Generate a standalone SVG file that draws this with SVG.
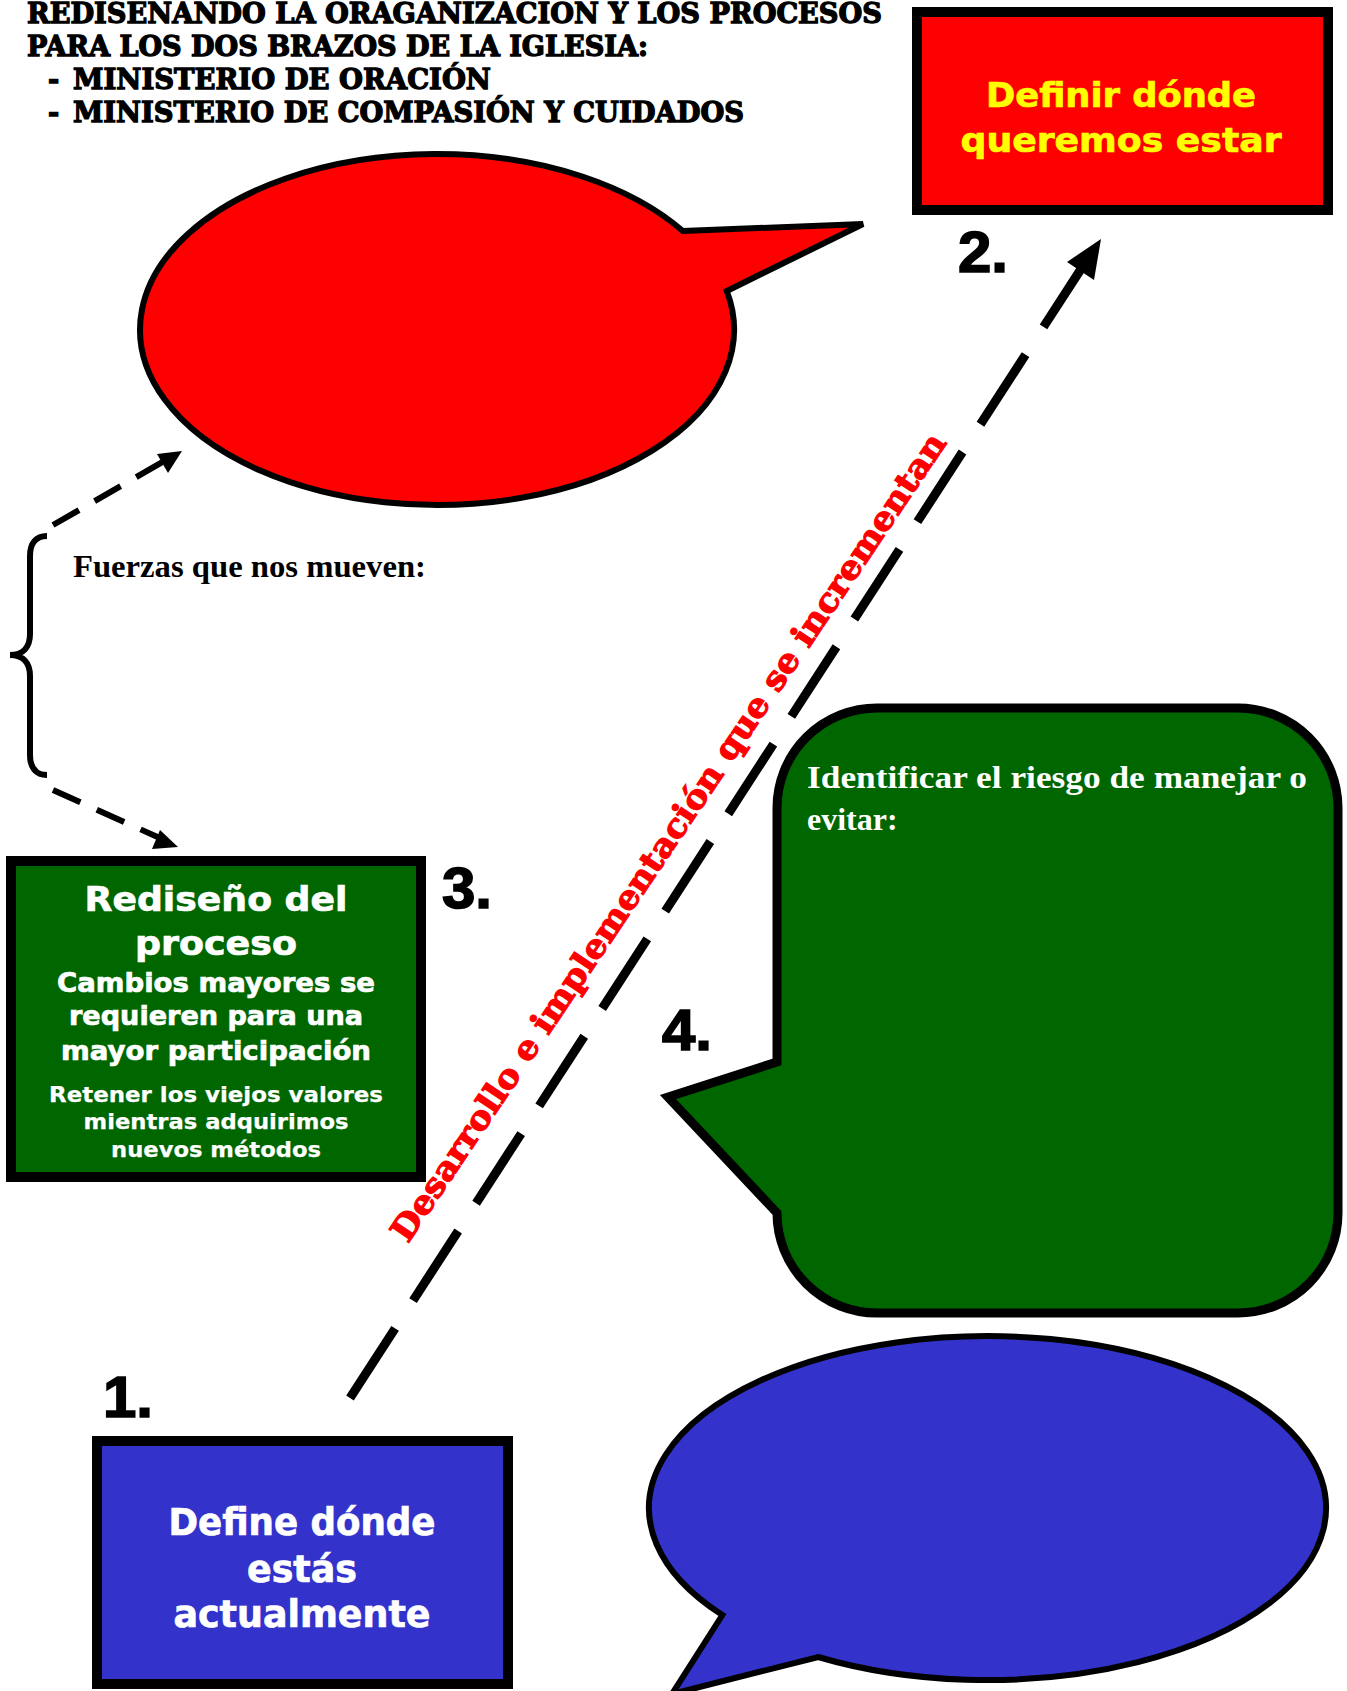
<svg xmlns="http://www.w3.org/2000/svg" width="1347" height="1691" viewBox="0 0 1347 1691">
<style>
.hdr{font-family:"DejaVu Serif","Liberation Serif",serif;font-weight:bold;font-size:27px;fill:#000;stroke:#000;stroke-width:1.3px}
.box{font-family:"DejaVu Sans","Liberation Sans",sans-serif;font-weight:bold;text-anchor:middle;stroke-width:0.7px}
.sm{stroke-width:0.25px}
.num{font-family:"Liberation Sans","DejaVu Sans",sans-serif;font-weight:bold;font-size:57px;fill:#000;stroke:#000;stroke-width:1.6px}
.tms{font-family:"Liberation Serif","DejaVu Serif",serif;font-weight:bold}
.edge{stroke:#000;stroke-linejoin:miter}
</style>
<rect width="1347" height="1691" fill="#fff"/>

<g id="header">
<text class="hdr" x="27" y="23" textLength="855" lengthAdjust="spacingAndGlyphs">REDISENANDO LA ORAGANIZACION Y LOS PROCESOS</text>
<text class="hdr" x="27" y="56" textLength="621" lengthAdjust="spacingAndGlyphs">PARA LOS DOS BRAZOS DE LA IGLESIA:</text>
<text class="hdr" x="48" y="89">-</text>
<text class="hdr" x="73" y="89" textLength="418" lengthAdjust="spacingAndGlyphs">MINISTERIO DE ORACIÓN</text>
<text class="hdr" x="48" y="122">-</text>
<text class="hdr" x="73" y="122" textLength="671" lengthAdjust="spacingAndGlyphs">MINISTERIO DE COMPASIÓN Y CUIDADOS</text>
</g>

<g id="node-red-bubble">
<path class="edge" d="M682.8 231 L863 224 L726.8 291 A297 175.5 0 1 1 682.8 231 Z" fill="#FF0000" stroke-width="6"/>
</g>

<g id="node-2">
<rect class="edge" x="917" y="12" width="411" height="198" fill="#FF0000" stroke-width="10"/>
<text class="box" x="1121" y="107" font-size="34" fill="#FFFF00" stroke="#FFFF00" textLength="270" lengthAdjust="spacingAndGlyphs">Definir dónde</text>
<text class="box" x="1121" y="152" font-size="34" fill="#FFFF00" stroke="#FFFF00" textLength="321" lengthAdjust="spacingAndGlyphs">queremos estar</text>
<text class="num" x="958" y="272" textLength="50" lengthAdjust="spacingAndGlyphs">2.</text>
</g>

<g id="node-forces">
<path d="M47 536 C36 536 30 543 30 556 L30 634 C30 647 23 655 10 655 C23 655 30 663 30 676 L30 755 C30 768 36 775 47 775" fill="none" stroke="#000" stroke-width="6"/>
<text class="tms" x="73" y="577" font-size="31" fill="#000" textLength="353" lengthAdjust="spacingAndGlyphs">Fuerzas que nos mueven:</text>
</g>

<g id="node-3">
<rect class="edge" x="11" y="861" width="410" height="316" fill="#006600" stroke-width="10"/>
<text class="box" x="216" y="911" font-size="33" fill="#fff" stroke="#fff" textLength="263" lengthAdjust="spacingAndGlyphs">Rediseño del</text>
<text class="box" x="216" y="955" font-size="33" fill="#fff" stroke="#fff" textLength="162" lengthAdjust="spacingAndGlyphs">proceso</text>
<text class="box" x="216" y="992" font-size="26" fill="#fff" stroke="#fff" textLength="318" lengthAdjust="spacingAndGlyphs">Cambios mayores se</text>
<text class="box" x="216" y="1025" font-size="26" fill="#fff" stroke="#fff" textLength="294" lengthAdjust="spacingAndGlyphs">requieren para una</text>
<text class="box" x="216" y="1060" font-size="26" fill="#fff" stroke="#fff" textLength="310" lengthAdjust="spacingAndGlyphs">mayor participación</text>
<text class="box sm" x="216" y="1102" font-size="21" fill="#fff" stroke="#fff" textLength="334" lengthAdjust="spacingAndGlyphs">Retener los viejos valores</text>
<text class="box sm" x="216" y="1129" font-size="21" fill="#fff" stroke="#fff" textLength="265" lengthAdjust="spacingAndGlyphs">mientras adquirimos</text>
<text class="box sm" x="216" y="1157" font-size="21" fill="#fff" stroke="#fff" textLength="210" lengthAdjust="spacingAndGlyphs">nuevos métodos</text>
<text class="num" x="442" y="908" textLength="50" lengthAdjust="spacingAndGlyphs">3.</text>
</g>

<g id="node-4">
<path class="edge" d="M877 708 L1238 708 A100 100 0 0 1 1338 808 L1338 1213 A100 100 0 0 1 1238 1313 L877 1313 A100 100 0 0 1 777 1213 L668 1097 L777 1062 L777 808 A100 100 0 0 1 877 708 Z" fill="#006600" stroke-width="9"/>
<text class="tms" x="807" y="788" font-size="32" fill="#fff" textLength="500" lengthAdjust="spacingAndGlyphs">Identificar el riesgo de manejar o</text>
<text class="tms" x="807" y="830" font-size="32" fill="#fff">evitar:</text>
<text class="num" x="662" y="1050" textLength="50" lengthAdjust="spacingAndGlyphs">4.</text>
</g>

<g id="node-blue-bubble">
<path class="edge" d="M722.4 1615 L672 1694 L818.2 1657 A338.5 172 0 1 0 722.4 1615 Z" fill="#3333CC" stroke-width="6"/>
</g>

<g id="node-1">
<rect class="edge" x="97" y="1441" width="411" height="243" fill="#3333CC" stroke-width="10"/>
<text class="box" x="302" y="1535" font-size="37" fill="#fff" stroke="#fff" textLength="267" lengthAdjust="spacingAndGlyphs">Define dónde</text>
<text class="box" x="302" y="1582" font-size="37" fill="#fff" stroke="#fff" textLength="110" lengthAdjust="spacingAndGlyphs">estás</text>
<text class="box" x="302" y="1627" font-size="37" fill="#fff" stroke="#fff" textLength="257" lengthAdjust="spacingAndGlyphs">actualmente</text>
<text class="num" x="103" y="1417" textLength="50" lengthAdjust="spacingAndGlyphs">1.</text>
</g>

<g id="connectors">
<line x1="53" y1="525" x2="166" y2="460" stroke="#000" stroke-width="6" stroke-dasharray="30 18"/>
<polygon points="182,451 157,454 168,473" fill="#000"/>
<line x1="53" y1="790" x2="162" y2="839" stroke="#000" stroke-width="6" stroke-dasharray="30 18"/>
<polygon points="178,847 160,830 152,849" fill="#000"/>
<line x1="350" y1="1398" x2="1081" y2="269" stroke="#000" stroke-width="9" stroke-dasharray="83 33"/>
<polygon points="1101,239 1094,280 1067,262" fill="#000"/>
<text transform="translate(408,1244) rotate(-56.06)" font-family="DejaVu Serif, Liberation Serif, serif" font-weight="bold" font-size="33" fill="#FF0000" stroke="#FF0000" stroke-width="1.2" textLength="966" lengthAdjust="spacingAndGlyphs">Desarrollo e implementación que se incrementan</text>
</g>
</svg>
